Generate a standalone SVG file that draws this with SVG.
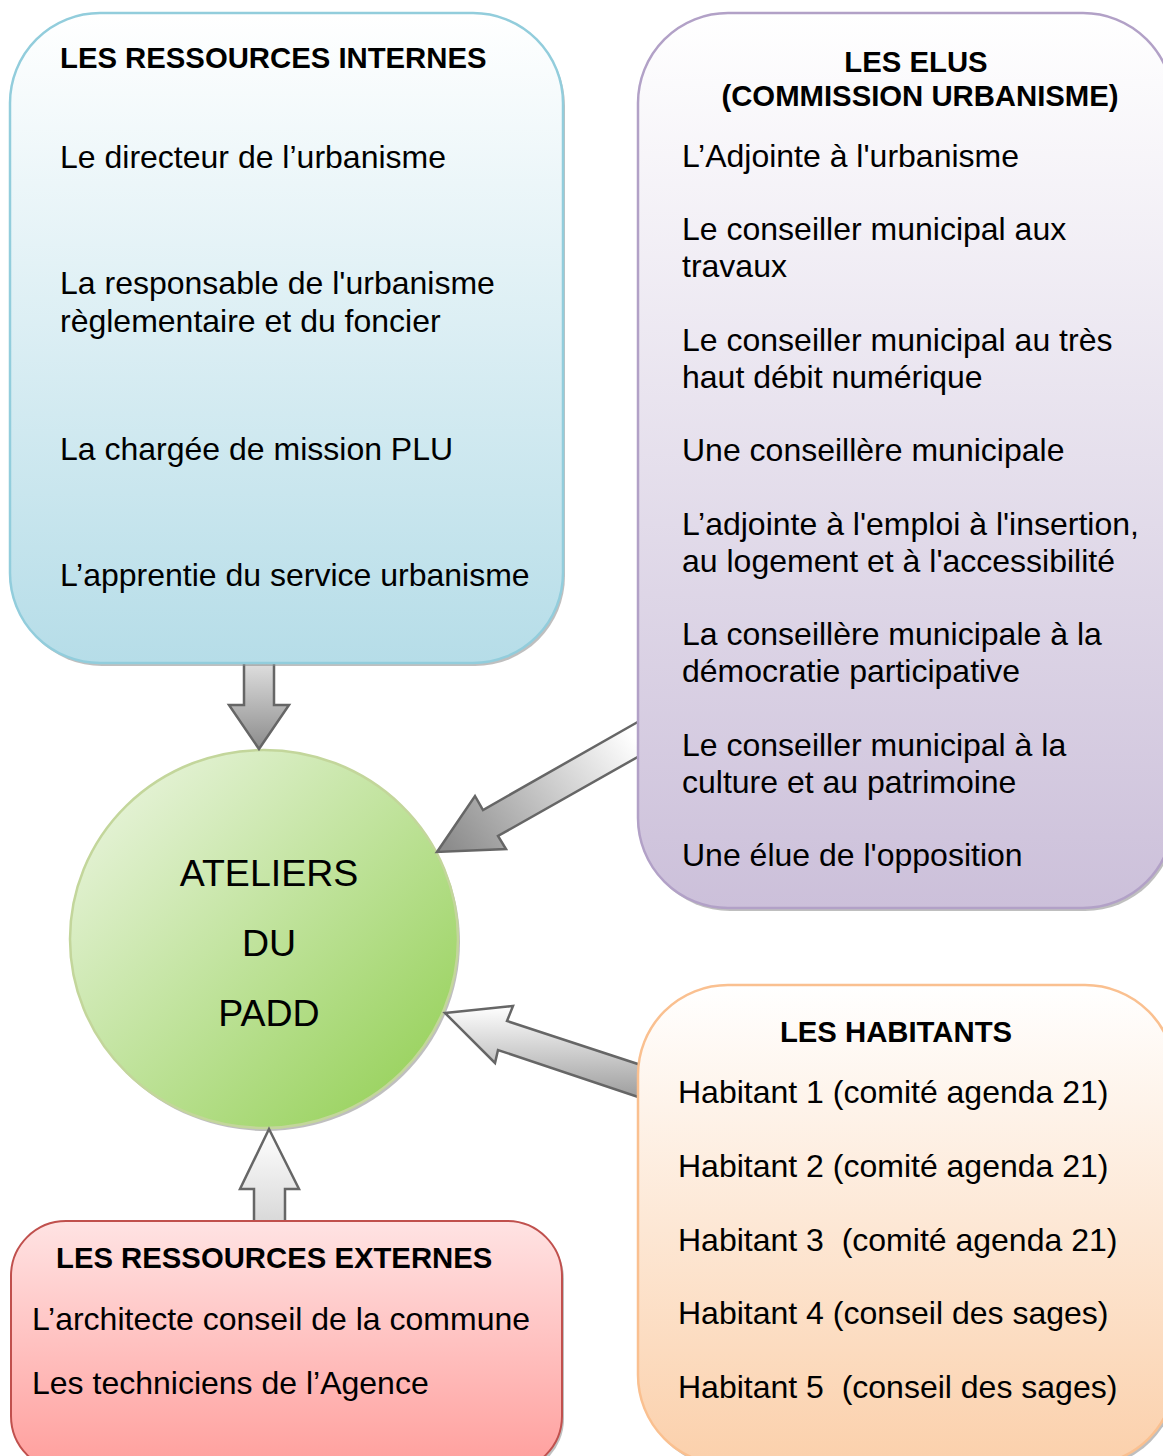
<svg xmlns="http://www.w3.org/2000/svg" width="1163" height="1456" viewBox="0 0 1163 1456">
<defs>
<linearGradient id="gBlue" x1="0" y1="0" x2="0" y2="1"><stop offset="0" stop-color="#ffffff"/><stop offset="1" stop-color="#b6dde8"/></linearGradient>
<linearGradient id="gPurple" x1="0" y1="0" x2="0" y2="1"><stop offset="0" stop-color="#ffffff"/><stop offset="1" stop-color="#ccc0da"/></linearGradient>
<linearGradient id="gOrange" x1="0" y1="0" x2="0" y2="1"><stop offset="0" stop-color="#ffffff"/><stop offset="1" stop-color="#fbd0ab"/></linearGradient>
<linearGradient id="gRed" x1="0" y1="0" x2="0" y2="1"><stop offset="0" stop-color="#ffe3e3"/><stop offset="1" stop-color="#ff9e9c"/></linearGradient>
<linearGradient id="gGreen" x1="0" y1="0" x2="1" y2="1"><stop offset="0" stop-color="#f0f7e8"/><stop offset="1" stop-color="#8fce4e"/></linearGradient>
<linearGradient id="gDark" x1="0" y1="0" x2="0" y2="1"><stop offset="0" stop-color="#e6e6e6"/><stop offset="1" stop-color="#8c8c8c"/></linearGradient>
<linearGradient id="gDiag" gradientUnits="userSpaceOnUse" x1="620" y1="720" x2="450" y2="850"><stop offset="0" stop-color="#ffffff"/><stop offset="1" stop-color="#8c8c8c"/></linearGradient>
<linearGradient id="gHab" x1="0" y1="0" x2="0" y2="1"><stop offset="0" stop-color="#ffffff"/><stop offset="1" stop-color="#9a9a9a"/></linearGradient>
<linearGradient id="gUp" x1="0" y1="0" x2="0" y2="1"><stop offset="0" stop-color="#ffffff"/><stop offset="1" stop-color="#d6d6d6"/></linearGradient>
</defs>
<style>
text{font-family:"Liberation Sans",Arial,sans-serif;fill:#000;}
.t{font-size:32px;}
.h{font-size:29.3px;font-weight:bold;}
.c{font-size:37.5px;}
.shadow{fill:#8a8a8a;opacity:0.55;}
.arrow{stroke:#666666;stroke-width:2.5;stroke-linejoin:miter;}
</style>

<g id="atelier">
<ellipse class="shadow" cx="266" cy="942" rx="194" ry="189"/>
<ellipse cx="264" cy="939" rx="194" ry="189" fill="url(#gGreen)" stroke="#c3d69b" stroke-width="2.5"/>
<text class="c" x="269" y="886" text-anchor="middle">ATELIERS</text>
<text class="c" x="269" y="956" text-anchor="middle">DU</text>
<text class="c" x="269" y="1026" text-anchor="middle">PADD</text>
</g>

<g id="connectors">
<polygon class="arrow" fill="url(#gDark)" points="244,655 274,655 274,705 289,705 259,749 229,705 244,705"/>
<polygon class="arrow" fill="url(#gDiag)" points="650,715 483,810 475,796 437,852 506,849 498,836 650,750"/>
<polygon class="arrow" fill="url(#gHab)" points="445,1013 513,1006 507,1021 650,1068 650,1101 498,1050 495,1063"/>
<polygon class="arrow" fill="url(#gUp)" points="269,1129 299,1189 285,1189 285,1228 254,1228 254,1189 240,1189"/>
</g>

<g id="ressources-internes">
<rect class="shadow" x="12" y="16" width="553" height="650" rx="90"/>
<rect x="10" y="13" width="553" height="650" rx="90" fill="url(#gBlue)" stroke="#92cddc" stroke-width="2.5"/>
<text class="h" x="60" y="68">LES RESSOURCES INTERNES</text>
<text class="t" x="60" y="168">Le directeur de l’urbanisme</text>
<text class="t" x="60" y="294">La responsable de l'urbanisme</text>
<text class="t" x="60" y="332">règlementaire et du foncier</text>
<text class="t" x="60" y="460">La chargée de mission PLU</text>
<text class="t" x="60" y="586">L’apprentie du service urbanisme</text>
</g>

<g id="elus">
<rect class="shadow" x="640" y="16" width="535" height="895" rx="90"/>
<rect x="638" y="13" width="535" height="895" rx="90" fill="url(#gPurple)" stroke="#b2a1c7" stroke-width="2.5"/>
<text class="h" x="916" y="72" text-anchor="middle">LES ELUS</text>
<text class="h" x="920" y="106" text-anchor="middle">(COMMISSION URBANISME)</text>
<text class="t" x="682" y="167">L’Adjointe à l'urbanisme</text>
<text class="t" x="682" y="240">Le conseiller municipal aux</text>
<text class="t" x="682" y="277">travaux</text>
<text class="t" x="682" y="351">Le conseiller municipal au très</text>
<text class="t" x="682" y="388">haut débit numérique</text>
<text class="t" x="682" y="461">Une conseillère municipale</text>
<text class="t" x="682" y="535">L’adjointe à l'emploi à l'insertion,</text>
<text class="t" x="682" y="572">au logement et à l'accessibilité</text>
<text class="t" x="682" y="645">La conseillère municipale à la</text>
<text class="t" x="682" y="682">démocratie participative</text>
<text class="t" x="682" y="756">Le conseiller municipal à la</text>
<text class="t" x="682" y="793">culture et au patrimoine</text>
<text class="t" x="682" y="866">Une élue de l'opposition</text>
</g>

<g id="habitants">
<rect class="shadow" x="640" y="988" width="537" height="480" rx="90"/>
<rect x="638" y="985" width="537" height="480" rx="90" fill="url(#gOrange)" stroke="#fac090" stroke-width="2.5"/>
<text class="h" x="896" y="1042" text-anchor="middle">LES HABITANTS</text>
<text class="t" x="678" y="1103">Habitant 1 (comité agenda 21)</text>
<text class="t" x="678" y="1177">Habitant 2 (comité agenda 21)</text>
<text class="t" x="678" y="1251" xml:space="preserve">Habitant 3  (comité agenda 21)</text>
<text class="t" x="678" y="1324">Habitant 4 (conseil des sages)</text>
<text class="t" x="678" y="1398" xml:space="preserve">Habitant 5  (conseil des sages)</text>
</g>

<g id="ressources-externes">
<rect class="shadow" x="13" y="1224" width="551" height="250" rx="55"/>
<rect x="11" y="1221" width="551" height="250" rx="55" fill="url(#gRed)" stroke="#c0504d" stroke-width="2"/>
<text class="h" x="56" y="1268">LES RESSOURCES EXTERNES</text>
<text class="t" x="32" y="1330">L’architecte conseil de la commune</text>
<text class="t" x="32" y="1394">Les techniciens de l’Agence</text>
</g>
</svg>
